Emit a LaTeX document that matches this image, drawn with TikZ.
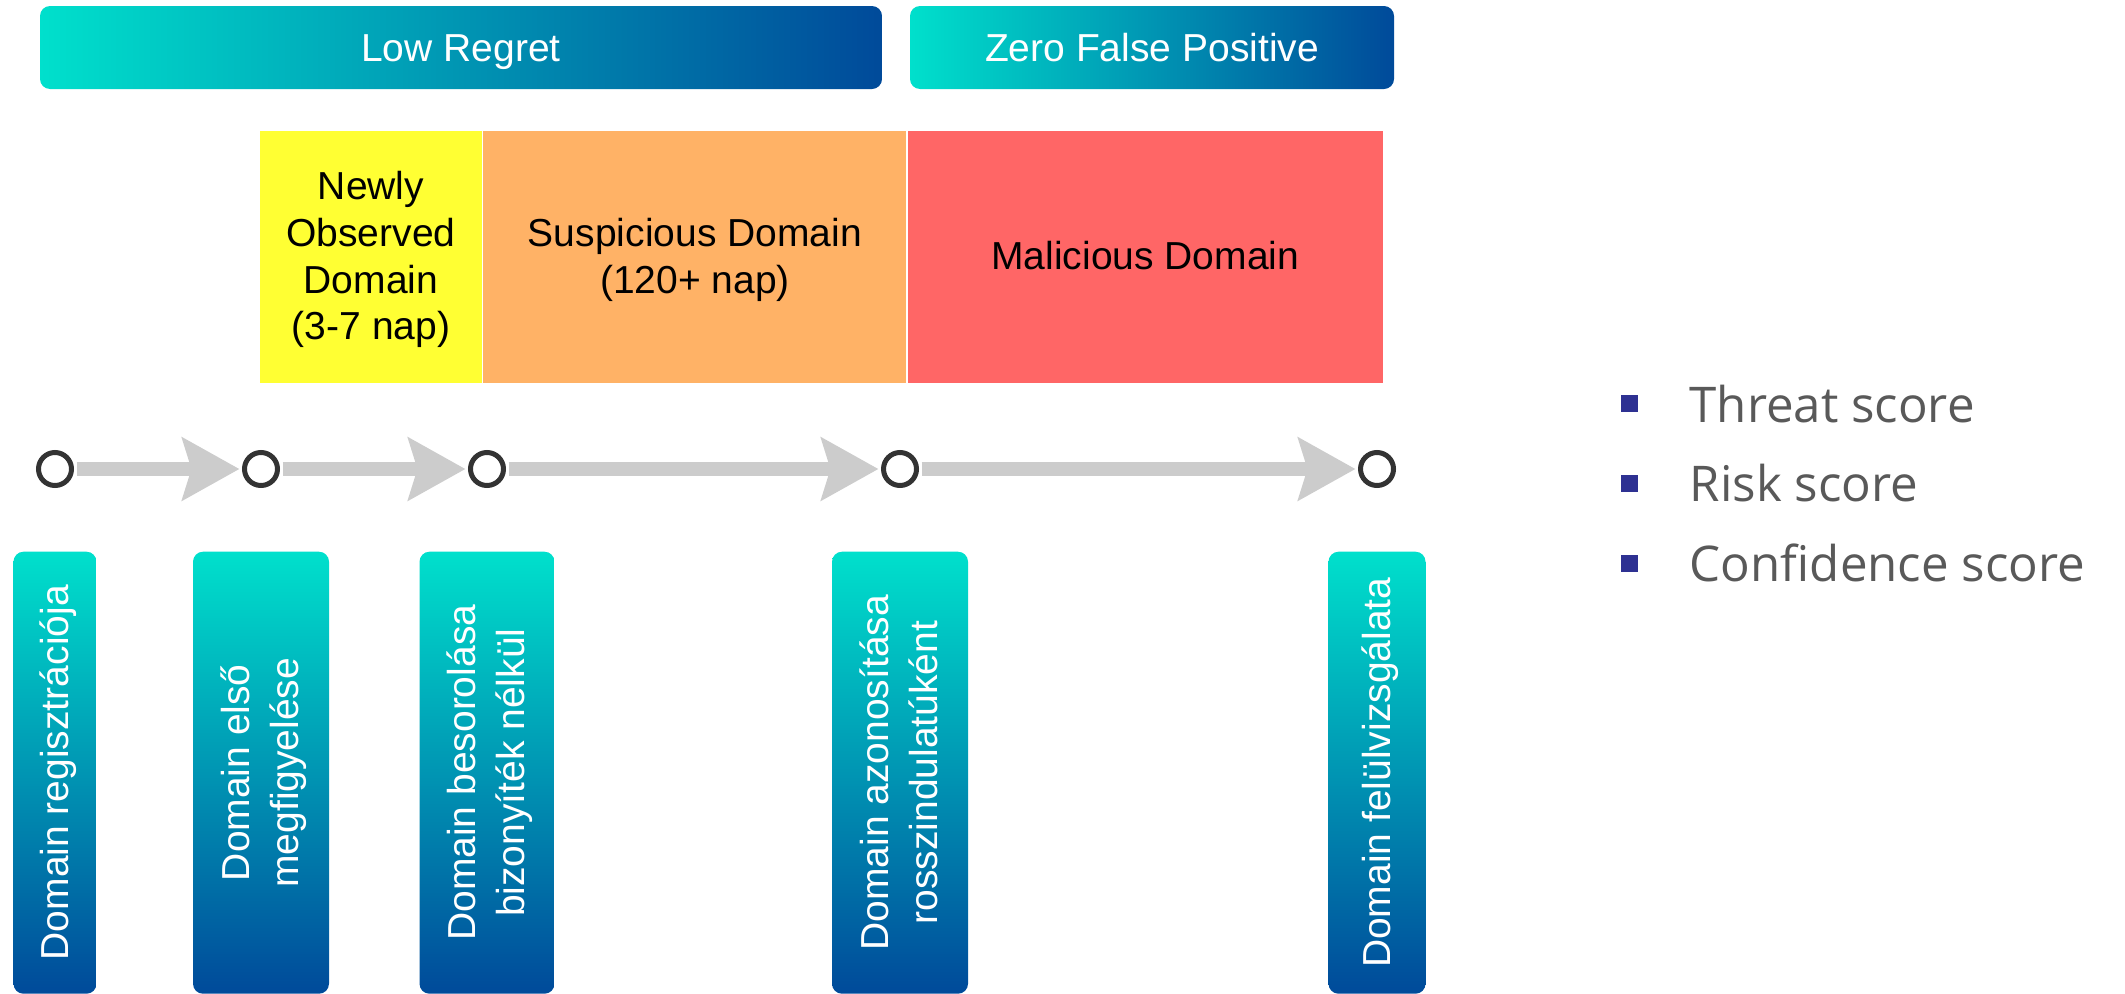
\documentclass[tikz,border=0pt]{standalone}
\usepackage{fontspec}
\usepackage{graphicx}
\setmainfont{Liberation Sans}
\newfontfamily\legendfont{Open Sans}
\usetikzlibrary{positioning,arrows.meta}

\definecolor{tealtop}{HTML}{00E0CC}
\definecolor{navybot}{HTML}{004A9A}
\definecolor{nodyellow}{HTML}{FFFF33}
\definecolor{susorange}{HTML}{FFB266}
\definecolor{malred}{HTML}{FF6666}
\definecolor{railgray}{HTML}{CCCCCC}
\definecolor{ringgray}{HTML}{333333}
\definecolor{bulletblue}{HTML}{2E3192}
\definecolor{legendgray}{HTML}{595959}

% stacked lines, lowered a little so they sit centred like the slide text
\newcommand{\lines}[1]{\raisebox{-1pt}[\height][\depth]{\begin{tabular}{@{}c@{}}#1\end{tabular}}}
\newcommand{\turned}[1]{\rotatebox{90}{\lines{#1}}}

\tikzset{
  banner/.style={rounded corners=0.1cm,left color=tealtop,right color=navybot,
                 text=white,minimum height=0.83cm,inner sep=0pt,
                 text height=10pt,text depth=2pt},
  phase/.style={minimum height=2.52cm,inner sep=0pt,
                font=\fontsize{11.1pt}{13.3pt}\selectfont},
  event/.style={circle,draw=ringgray,fill=white,line width=0.05cm,
                minimum size=0.33cm,inner sep=0pt},
  rail/.style={draw=railgray,line width=0.14cm,shorten <=0.025cm,shorten >=0.025cm,
               -{Stealth[length=0.57cm,width=0.62cm,inset=0.09cm]}},
  milestone/.style={rounded corners=0.1cm,top color=tealtop,bottom color=navybot,
                    text=white,minimum height=4.42cm,inner sep=0pt,
                    font=\fontsize{11.1pt}{13.9pt}\selectfont},
  bullet/.style={fill=bulletblue,minimum size=0.17cm,inner sep=0pt},
  legend/.style={text=legendgray,inner sep=0pt,font=\legendfont\fontsize{14pt}{16pt}\selectfont},
}

\begin{document}
\begin{tikzpicture}[font=\fontsize{11.1pt}{13.5pt}\selectfont]
  \useasboundingbox (0,0) rectangle (21.25,-9.93);
% ================= banners =================
  \node[banner,minimum width=8.42cm] (lowregret) at (4.61,-0.475) {Low Regret};
  \node[banner,minimum width=4.84cm] (zerofp) at (11.52,-0.475) {Zero False Positive};
% ================= phases =================
  \node[phase,fill=nodyellow,minimum width=2.22cm] (newly) at (3.71,-2.57)
        {\lines{Newly\\Observed\\Domain\\(3-7 nap)}};
  \node[phase,fill=susorange,minimum width=4.23cm,right=0pt of newly] (suspicious)
        {\lines{Suspicious Domain\\(120+ nap)}};
  \node[phase,fill=malred,minimum width=4.75cm,right=0pt of suspicious] (malicious)
        {\lines{Malicious Domain}};
% ================= timeline =================
  \foreach \n/\x in {1/0.55,2/2.61,3/4.87,4/9.00,5/13.77}
      \node[event] (e\n) at (\x,-4.69) {};
  \foreach \a/\b in {1/2,2/3,3/4,4/5}
      \draw[rail] (e\a) -- (e\b);
% ================= milestones =================
  \node[milestone,minimum width=0.83cm,below=0.63cm of e1] (m1)
        {\turned{Domain regisztrációja}};
  \node[milestone,minimum width=1.36cm,below=0.63cm of e2] (m2)
        {\turned{Domain első\\megfigyelése}};
  \node[milestone,minimum width=1.35cm,below=0.63cm of e3] (m3)
        {\turned{Domain besorolása\\bizonyíték nélkül}};
  \node[milestone,minimum width=1.36cm,below=0.63cm of e4] (m4)
        {\turned{Domain azonosítása\\rosszindulatúként}};
  \node[milestone,minimum width=0.97cm,below=0.63cm of e5] (m5)
        {\turned{Domain felülvizsgálata}};
% ================= scores =================
  \foreach \i/\t in {1/Threat score,2/Risk score,3/Confidence score}{
      \node[bullet] (b\i) at (16.29,{-4.03-0.80*(\i-1)}) {};
      \node[legend,anchor=base west] (s\i) at (16.89,{-4.22-0.795*(\i-1)}) {\t};}
\end{tikzpicture}
\end{document}
